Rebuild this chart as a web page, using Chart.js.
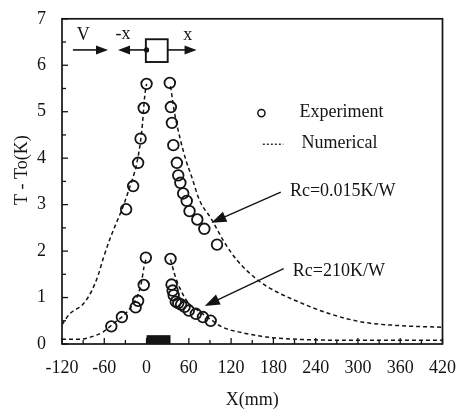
<!DOCTYPE html>
<html>
<head>
<meta charset="utf-8">
<script src="https://cdn.jsdelivr.net/npm/chart.js@4"></script>
<style>
  html, body { margin: 0; padding: 0; background: #fff; }
  #wrap { width: 461px; height: 416px; }
</style>
</head>
<body>
<div id="wrap"><canvas id="chart"></canvas></div>
<script>
/* ---------- data ---------- */
const xTickValues = [-120, -60, 0, 60, 120, 180, 240, 300, 360, 420];
const yTickValues = [0, 1, 2, 3, 4, 5, 6, 7];

// experiment, Rc = 0.015 K/W
const expHighX = [-29, -19, -12, -8.5, -4, 0, 33, 34.5, 36, 38, 43, 45, 48, 52, 57, 61, 72, 82, 100];
const expHighY = [2.9, 3.4, 3.9, 4.42, 5.08, 5.6, 5.62, 5.1, 4.76, 4.28, 3.9, 3.63, 3.47, 3.24, 3.08, 2.86, 2.68, 2.48, 2.14];

// experiment, Rc = 210 K/W
const expLowX = [-50, -35, -15.5, -12, -4, -1, 34, 35.5, 37, 38.5, 41.5, 45, 49, 54, 60, 70, 80, 91];
const expLowY = [0.38, 0.58, 0.79, 0.93, 1.27, 1.86, 1.83, 1.28, 1.15, 1.05, 0.91, 0.88, 0.85, 0.8, 0.72, 0.65, 0.58, 0.5];

// numerical curves (left / right of heater)
const numHighLeftX = [-120, -109, -90, -78, -68.5, -61.5, -52, -42.5, -33, -26, -20, -14, -7, -2.5, 0];
const numHighLeftY = [0.42, 0.65, 0.86, 1.14, 1.49, 1.84, 2.26, 2.62, 2.97, 3.28, 3.55, 3.88, 4.55, 5.35, 5.6];
const numHighRightX = [34, 40, 48, 56, 64, 75, 92, 110, 128, 160, 185, 212, 260, 307, 354, 420];
const numHighRightY = [5.55, 4.95, 4.4, 3.95, 3.6, 3.1, 2.69, 2.2, 1.81, 1.35, 1.12, 0.93, 0.65, 0.47, 0.4, 0.36];
const numLowLeftX = [-120, -95, -75, -61.5, -47, -33, -21, -12, -7, -3.5, 0];
const numLowLeftY = [0.1, 0.1, 0.17, 0.26, 0.44, 0.61, 0.82, 1.07, 1.35, 1.67, 1.86];
const numLowRightX = [34, 40, 47, 59, 73, 90, 108, 137, 170, 236, 300, 420];
const numLowRightY = [1.82, 1.49, 1.21, 0.89, 0.72, 0.54, 0.36, 0.24, 0.15, 0.09, 0.08, 0.08];

const INK = '#141414';
const FONT = '"Liberation Serif", "DejaVu Serif", serif';

function pts(xs, ys) { return xs.map((x, i) => ({ x, y: ys[i] })); }

function expSet(xs, ys) {
  return {
    data: pts(xs, ys), showLine: false,
    pointStyle: 'circle', pointRadius: 5.3, pointBorderWidth: 1.8,
    pointBorderColor: INK, pointBackgroundColor: 'rgba(0,0,0,0)'
  };
}
function numSet(xs, ys) {
  return {
    data: pts(xs, ys), showLine: true, pointRadius: 0,
    borderColor: INK, borderWidth: 1.5, borderDash: [4, 3],
    cubicInterpolationMode: 'monotone', fill: false
  };
}

/* ---------- drawing helpers for frame, ticks and notes ---------- */
function arrow(ctx, x1, y1, x2, y2, hl = 13, hw = 5) {
  const ang = Math.atan2(y2 - y1, x2 - x1);
  ctx.beginPath(); ctx.moveTo(x1, y1); ctx.lineTo(x2 - hl * 0.6 * Math.cos(ang), y2 - hl * 0.6 * Math.sin(ang)); ctx.stroke();
  ctx.beginPath();
  ctx.moveTo(x2, y2);
  ctx.lineTo(x2 - hl * Math.cos(ang) + hw * Math.sin(ang), y2 - hl * Math.sin(ang) - hw * Math.cos(ang));
  ctx.lineTo(x2 - hl * Math.cos(ang) - hw * Math.sin(ang), y2 - hl * Math.sin(ang) + hw * Math.cos(ang));
  ctx.closePath(); ctx.fill();
}

const decor = {
  id: 'decor',
  afterDraw(chart) {
    const { ctx, chartArea: a, scales: { x, y } } = chart;
    const P = (vx, vy) => [x.getPixelForValue(vx), y.getPixelForValue(vy)];
    ctx.save();
    ctx.strokeStyle = INK; ctx.fillStyle = INK;

    // frame
    ctx.lineWidth = 1.7;
    ctx.strokeRect(a.left, a.top, a.right - a.left, a.bottom - a.top);

    // inward ticks
    ctx.lineWidth = 1.3;
    for (let v = -120; v <= 420; v += 30) {
      const px = x.getPixelForValue(v), len = v % 60 === 0 ? 6 : 4;
      ctx.beginPath(); ctx.moveTo(px, a.bottom); ctx.lineTo(px, a.bottom - len); ctx.stroke();
    }
    for (let v = 0; v <= 7; v += 0.5) {
      const py = y.getPixelForValue(v), len = v % 1 === 0 ? 6 : 4;
      ctx.beginPath(); ctx.moveTo(a.left, py); ctx.lineTo(a.left + len, py); ctx.stroke();
    }

    // heater block
    const [hx1, hy1] = P(0, 0.19), [hx2, hy2] = P(34, 0);
    ctx.fillRect(hx1, hy1, hx2 - hx1, hy2 - hy1);

    // schematic at top
    ctx.lineWidth = 1.6;
    let [ax1, ay] = P(-104.5, 6.33), [ax2] = P(-54.7, 6.33);
    arrow(ctx, ax1, ay, ax2, ay, 12, 4.5);
    [ax1] = P(0, 6.33); [ax2] = P(-40.5, 6.33);
    arrow(ctx, ax1, ay, ax2, ay, 12, 4.5);
    [ax1] = P(30, 6.33); [ax2] = P(71, 6.33);
    arrow(ctx, ax1, ay, ax2, ay, 12, 4.5);
    const [bx1, by1] = P(-1, 6.56), [bx2, by2] = P(30, 6.07);
    ctx.lineWidth = 1.9;
    ctx.strokeRect(bx1, by1, bx2 - bx1, by2 - by1);
    const [dx, dy] = P(0, 6.33);
    ctx.beginPath(); ctx.arc(dx, dy, 2.6, 0, Math.PI * 2); ctx.fill();

    ctx.font = '18px ' + FONT;
    ctx.textAlign = 'center'; ctx.textBaseline = 'middle';
    ctx.fillText('V', ...P(-90, 6.64));
    ctx.fillText('-x', ...P(-33.6, 6.66));
    ctx.fillText('x', ...P(58.5, 6.64));

    // legend
    ctx.lineWidth = 1.5;
    const [lcx, lcy] = P(163, 4.97);
    ctx.beginPath(); ctx.arc(lcx, lcy, 3.6, 0, Math.PI * 2); ctx.stroke();
    const [lx1, ly] = P(165, 4.3), [lx2] = P(194, 4.3);
    ctx.lineWidth = 1.3;
    ctx.setLineDash([2, 2]);
    ctx.beginPath(); ctx.moveTo(lx1, ly); ctx.lineTo(lx2, ly); ctx.stroke();
    ctx.setLineDash([]);
    ctx.textAlign = 'left';
    ctx.fillText('Experiment', ...P(217, 4.99));
    ctx.fillText('Numerical', ...P(220, 4.32));

    // Rc labels with arrows
    ctx.lineWidth = 1.4;
    ctx.fillText('Rc=0.015K/W', ...P(203.5, 3.29));
    arrow(ctx, ...P(190.5, 3.27), ...P(92, 2.61), 15, 5.5);
    ctx.fillText('Rc=210K/W', ...P(207.5, 1.56));
    arrow(ctx, ...P(194.6, 1.62), ...P(82.6, 0.82), 15, 5.5);
    ctx.restore();
  }
};

new Chart(document.getElementById('chart'), {
  type: 'scatter',
  data: {
    datasets: [
      numSet(numHighLeftX, numHighLeftY),
      numSet(numHighRightX, numHighRightY),
      numSet(numLowLeftX, numLowLeftY),
      numSet(numLowRightX, numLowRightY),
      expSet(expHighX, expHighY),
      expSet(expLowX, expLowY)
    ]
  },
  options: {
    responsive: true, maintainAspectRatio: false, animation: false,
    layout: { padding: { top: 12, right: 18, left: 0, bottom: 0 } },
    plugins: { legend: { display: false }, tooltip: { enabled: false } },
    scales: {
      x: {
        type: 'linear', min: -120, max: 420,
        afterBuildTicks: s => { s.ticks = xTickValues.map(v => ({ value: v })); },
        afterFit: s => { s.height = 72; },
        grid: { display: false }, border: { display: false },
        ticks: { color: INK, padding: 5, maxRotation: 0, autoSkip: false, font: { family: FONT, size: 18 } },
        title: { display: true, text: 'X(mm)', color: INK, padding: { top: 0, bottom: 5 }, font: { family: FONT, size: 18 } }
      },
      y: {
        type: 'linear', min: 0, max: 7,
        afterBuildTicks: s => { s.ticks = yTickValues.map(v => ({ value: v })); },
        afterFit: s => { s.width = 62; },
        grid: { display: false }, border: { display: false },
        ticks: { color: INK, padding: 8, font: { family: FONT, size: 18 } },
        title: { display: true, text: '\u00a0\u00a0\u00a0\u00a0\u00a0T - To(K)', color: INK, padding: { top: 11, bottom: 0 }, font: { family: FONT, size: 18 } }
      }
    }
  },
  plugins: [decor]
});
</script>
</body>
</html>
